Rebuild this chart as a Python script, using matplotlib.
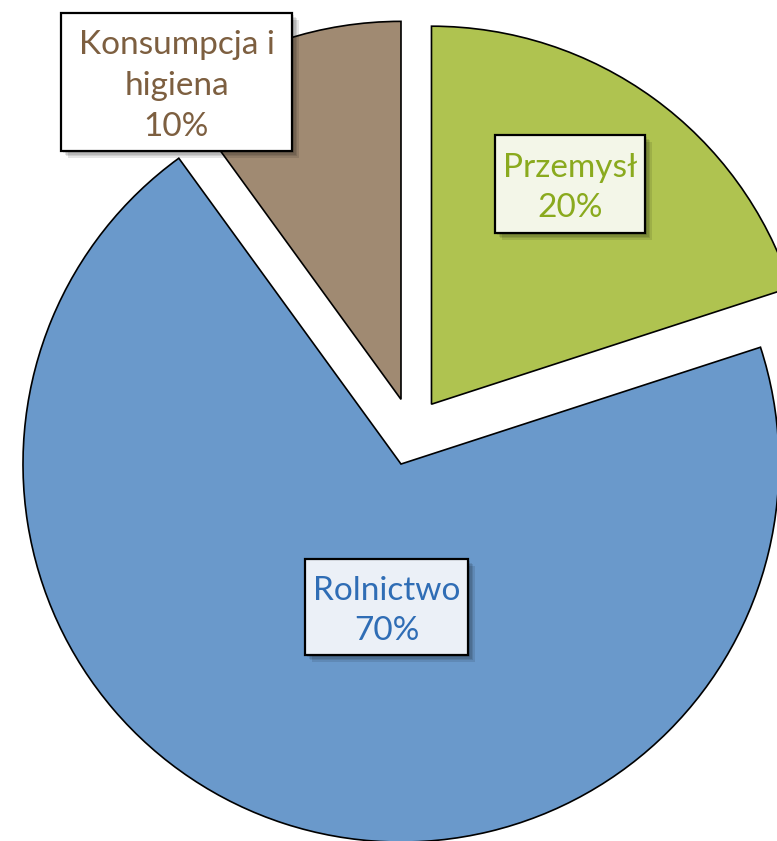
import matplotlib
matplotlib.use("Agg")
import matplotlib.pyplot as plt
from matplotlib.patches import Rectangle

# Data
categories = ["Przemysł", "Rolnictwo", "Konsumpcja i\nhigiena"]
values = [20, 70, 10]
colors = ["#AFC350", "#6A99CB", "#A08A72"]
text_colors = ["#8AAA1E", "#2F6DB5", "#7D5F40"]
box_faces = ["#F3F6E8", "#EBF0F7", "#FFFFFF"]

W, H = 777, 841
fig = plt.figure(figsize=(W / 100, H / 100), dpi=100)
ax = fig.add_axes([0, 0, 1, 1])

radius = 378
center = (411.5, H - 431.7)
explode = [34] * 3  # matplotlib uses absolute data units for explode offsets

wedges, _ = ax.pie(values, colors=colors, startangle=90, counterclock=False,
                   radius=radius, center=center, explode=explode,
                   wedgeprops=dict(edgecolor="black", linewidth=1.2))

ax.set_xlim(0, W)
ax.set_ylim(0, H)
ax.set_aspect("equal")
ax.axis("off")

# label boxes: (x0, y0_top, x1, y1_bottom) in pixel coords (y down)
boxes = [(495, 135, 645, 233), (305, 559, 468, 655), (61, 13, 292, 151)]
for cat, val, tc, fc, (x0, y0, x1, y1) in zip(categories, values, text_colors, box_faces, boxes):
    # soft shadow
    for i, a in enumerate([0.10, 0.10, 0.10, 0.10]):
        off = 2 + i * 1.5
        ax.add_patch(Rectangle((x0 + off, H - y1 - off), x1 - x0, y1 - y0,
                               facecolor="black", edgecolor="none", alpha=a, zorder=4))
    ax.add_patch(Rectangle((x0, H - y1), x1 - x0, y1 - y0, facecolor=fc,
                           edgecolor="black", linewidth=1.6, zorder=5))
    ax.text((x0 + x1) / 2, H - (y0 + y1) / 2 - 4, f"{cat}\n{val}%", ha="center", va="center",
            color=tc, fontsize=24, family=["Lato", "DejaVu Sans"], linespacing=1.45, zorder=6)

fig.savefig("out.png", dpi=100)
